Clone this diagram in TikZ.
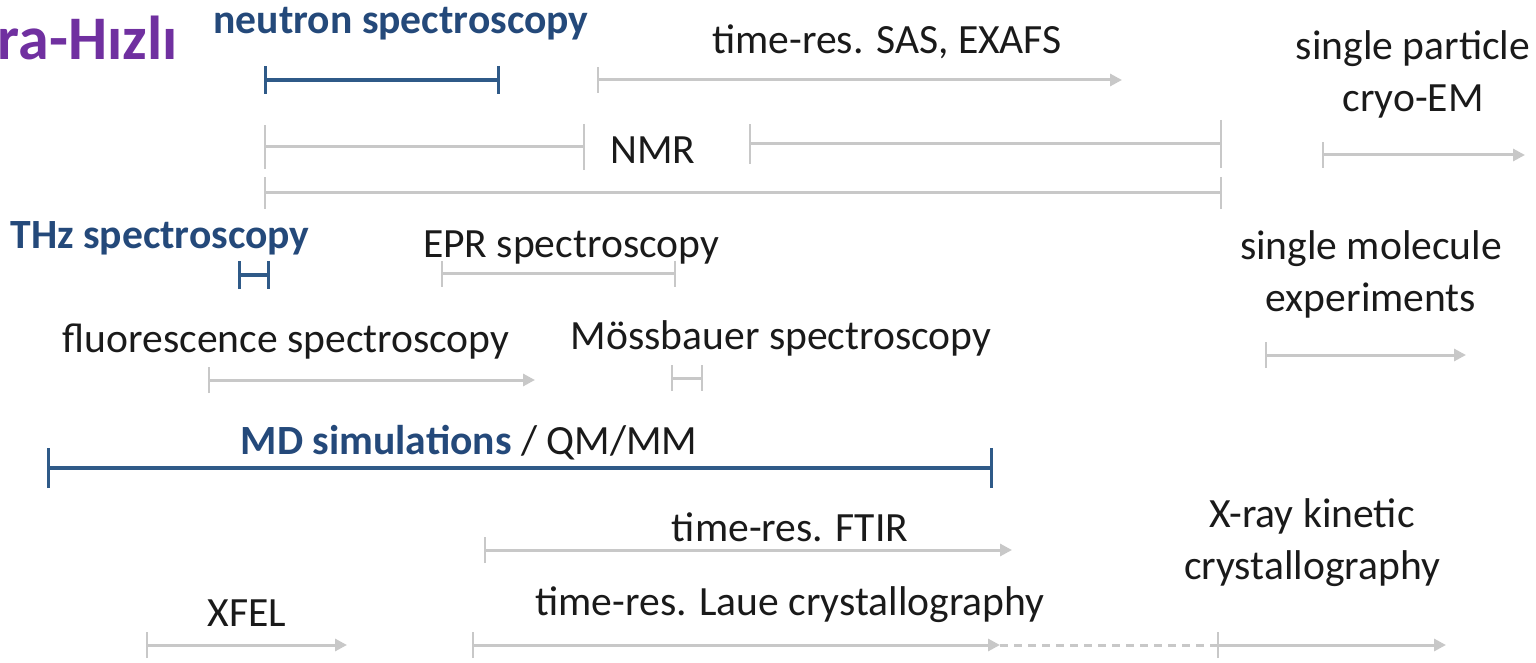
\documentclass[tikz,border=0pt]{standalone}
\usepackage{fontspec}
\setmainfont{Carlito}
\usetikzlibrary{arrows.meta}
\definecolor{lg}{HTML}{C8C8C8}
\definecolor{db}{HTML}{2F5A88}
\definecolor{tb}{HTML}{24497A}
\definecolor{pur}{HTML}{7030A0}
\definecolor{tx}{HTML}{1A1A1A}
\begin{document}
\begin{tikzpicture}[x=0.5pt,y=-0.5pt,
 lbl/.style={font=\fontsize{20.8}{26}\selectfont, text=tx, inner sep=0, align=center},
 blbl/.style={font=\fontsize{20.8}{26}\selectfont\bfseries, text=tb, inner sep=0},
 gline/.style={draw=lg, line width=1.5pt},
 garrow/.style={gline, {Bar[width=13pt,line width=1pt]}-{Triangle[length=6pt,width=6pt]}},
 gspan/.style={gline, {Bar[width=13pt,line width=1pt]}-{Bar[width=13pt,line width=1pt]}},
 bspan/.style={draw=db, line width=2pt, {Bar[width=14pt,line width=1.5pt]}-{Bar[width=14pt,line width=1.5pt]}},
]
\useasboundingbox (0,0) rectangle (1536,663);
% title fragment
\begin{scope}
\clip (0,0) rectangle (1536,663);
\node[font=\fontsize{31}{34}\selectfont\bfseries, text=pur, inner sep=0, anchor=east] (title) at (178,38) {ra-Hızlı};
\end{scope}
% labels
\node[blbl] (neutron) at (401,24) {neutron spectroscopy};
\node[lbl] (sas) at (887,42) {time-res. SAS, EXAFS};
\node[lbl] (cryo) at (1413,74) {single particle\\cryo-EM};
\node[lbl] (nmr) at (653,150) {NMR};
\node[blbl] (thz) at (160,238) {THz spectroscopy};
\node[lbl] (epr) at (571,248) {EPR spectroscopy};
\node[lbl] (smol) at (1371,274) {single molecule\\experiments};
\node[lbl] (fluo) at (286,342) {fluorescence spectroscopy};
\node[lbl] (moss) at (781,338) {Mössbauer spectroscopy};
\node[lbl] (md) at (469,443) {\textcolor{tb}{\bfseries MD simulations} / QM/MM};
\node[lbl] (ftir) at (790,527) {time-res. FTIR};
\node[lbl] (xkin) at (1312,543) {X-ray kinetic\\crystallography};
\node[lbl] (xfel) at (247,613) {XFEL};
\node[lbl] (laue) at (790,605) {time-res. Laue crystallography};
% span end points
\coordinate (neuA) at (264,80); \coordinate (neuB) at (500,80);
\coordinate (sasA) at (597,80); \coordinate (sasB) at (1122,80);
\coordinate (nmrA) at (264,147); \coordinate (nmrB) at (585,147);
\coordinate (nmrC) at (749,144); \coordinate (nmrD) at (1222,144);
\coordinate (longA) at (264,193); \coordinate (longB) at (1222,193);
\coordinate (cryA) at (1322,155); \coordinate (cryB) at (1525,155);
\coordinate (thzA) at (238,275); \coordinate (thzB) at (270,275);
\coordinate (eprA) at (441,274); \coordinate (eprB) at (676,274);
\coordinate (fluA) at (208,380); \coordinate (fluB) at (535,380);
\coordinate (mosA) at (671,378); \coordinate (mosB) at (703,378);
\coordinate (smA) at (1265,355); \coordinate (smB) at (1466,355);
\coordinate (mdA) at (47,468); \coordinate (mdB) at (993,468);
\coordinate (ftA) at (484,550); \coordinate (ftB) at (1012,550);
\coordinate (xfA) at (146,645); \coordinate (xfB) at (347,645);
\coordinate (laA) at (472,645); \coordinate (laB) at (1000,645);
\coordinate (xkA) at (1217,645); \coordinate (xkB) at (1446,645);
% spans
\draw[bspan] (neuA) -- (neuB);
\draw[garrow] (sasA) -- (sasB);
\draw[gline, {Bar[width=22pt,line width=1pt]}-{Bar[width=23pt,line width=1pt]}] (nmrA) -- (nmrB);
\draw[gline, {Bar[width=20pt,line width=1pt]}-{Bar[width=24pt,line width=1pt]}] (nmrC) -- (nmrD);
\draw[gline, {Bar[width=16pt,line width=1pt]}-{Bar[width=16pt,line width=1pt]}] (longA) -- (longB);
\draw[garrow] (cryA) -- (cryB);
\draw[draw=db, line width=2pt, {Bar[width=14pt,line width=1.5pt]}-{Bar[width=14pt,line width=1.5pt]}] (thzA) -- (thzB);
\draw[gspan] (eprA) -- (eprB);
\draw[garrow] (fluA) -- (fluB);
\draw[gspan] (mosA) -- (mosB);
\draw[garrow] (smA) -- (smB);
\draw[draw=db, line width=2pt, {Bar[width=20pt,line width=1.5pt]}-{Bar[width=20pt,line width=1.5pt]}] (mdA) -- (mdB);
\draw[garrow] (ftA) -- (ftB);
\draw[garrow] (xfA) -- (xfB);
\draw[garrow] (laA) -- (laB);
\draw[gline, dashed, dash pattern=on 4pt off 3pt] (laB) -- (xkA);
\draw[garrow] (xkA) -- (xkB);
\end{tikzpicture}
\end{document}
